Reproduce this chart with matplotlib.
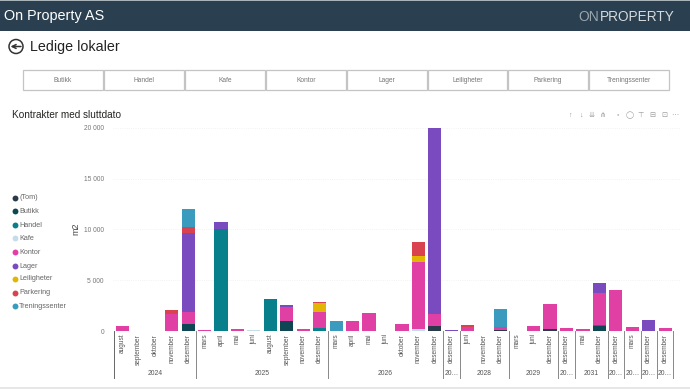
import matplotlib
matplotlib.use("Agg")
import matplotlib.pyplot as plt
from matplotlib.patches import Circle, Rectangle
import numpy as np

plt.rcParams['font.family'] = ['Liberation Sans', 'DejaVu Sans']

months = ["august", "september", "oktober", "november", "desember",
          "mars", "april", "mai", "juni", "august", "september", "november", "desember",
          "mars", "april", "mai", "juni", "oktober", "november", "desember",
          "desember",
          "juni", "november", "desember",
          "mars", "juni", "desember",
          "desember",
          "mai", "desember",
          "desember", "mars", "desember", "desember"]
years = ["2024", "2025", "2026", "20…", "2028", "2029", "20…", "2031", "20…", "20…", "20…", "20…"]
year_sizes = [5, 8, 7, 1, 3, 3, 1, 2, 1, 1, 1, 1]

series_names = ["(Tom)", "Butikk", "Handel", "Kafe", "Kontor", "Lager", "Leiligheter", "Parkering", "Treningssenter"]
series_colors = ["#2b3a4a", "#0f4654", "#08808c", "#c5dde8", "#e03fa3", "#7a4bbf", "#e3b505", "#d9434f", "#3a9bbf"]

tom     = [0, 0, 0, 0, 0,  0, 0, 0, 0, 0, 0, 0, 0,  0, 0, 0, 0, 0, 0, 530,  0,  0, 0, 100,  0, 0, 200,  0,  0, 0,  0, 0, 0, 0]
butikk  = [0, 0, 0, 0, 660,  0, 0, 0, 0, 0, 990, 0, 0,  0, 0, 0, 0, 0, 0, 0,  0,  0, 0, 0,  0, 0, 0,  0,  0, 460,  0, 0, 0, 0]
handel  = [0, 0, 0, 0, 0,  0, 10000, 0, 0, 3125, 0, 0, 300,  0, 0, 0, 0, 0, 0, 0,  0,  0, 0, 0,  0, 0, 0,  0,  0, 160,  0, 0, 0, 0]
kafe    = [0, 30, 40, 0, 0,  0, 0, 0, 60, 0, 0, 0, 0,  0, 0, 0, 20, 0, 170, 0,  0,  0, 20, 0,  30, 0, 0,  0,  0, 0,  0, 0, 0, 0]
kontor  = [530, 0, 0, 1680, 1180,  70, 0, 160, 20, 0, 1410, 200, 1575,  0, 990, 1810, 0, 720, 6640, 1180,  0,  360, 0, 300,  0, 490, 2430,  330,  200, 3130,  4010, 400, 0, 260]
lager   = [0, 0, 0, 0, 7860,  0, 720, 0, 0, 0, 130, 0, 0,  0, 0, 0, 0, 0, 0, 18290,  100,  0, 0, 0,  0, 0, 0,  0,  0, 950,  0, 0, 1050, 0]
leilig  = [0, 0, 0, 0, 0,  0, 0, 0, 0, 0, 0, 0, 925,  0, 0, 0, 0, 0, 620, 0,  0,  0, 0, 0,  0, 0, 0,  0,  0, 0,  0, 0, 0, 0]
parker  = [0, 0, 0, 390, 500,  0, 0, 0, 0, 0, 0, 0, 60,  0, 0, 0, 0, 0, 1350, 0,  0,  230, 0, 0,  0, 0, 0,  0,  0, 0,  0, 0, 0, 0]
trening = [0, 0, 0, 0, 1800,  0, 0, 0, 0, 0, 0, 0, 0,  950, 0, 0, 0, 0, 0, 0,  0,  0, 0, 1800,  0, 0, 0,  0,  0, 0,  0, 0, 0, 0]
series = [tom, butikk, handel, kafe, kontor, lager, leilig, parker, trening]

buttons = ["Butikk", "Handel", "Kafe", "Kontor", "Lager", "Leiligheter", "Parkering", "Treningssenter"]
button_edges = [23, 104, 185, 266, 347, 428, 508, 589, 669]
legend_y = [197.5, 211, 225, 238, 252, 266, 279, 293, 306]
toolbar = ["↑", "↓", "⇊", "⋔", "◦", "◯", "⊤", "⊟", "⊡", "⋯"]
toolbar_x = [570, 581, 592, 603, 618, 630, 641, 652, 664, 675]

fig = plt.figure(figsize=(6.9, 3.89), dpi=100, facecolor="white")

# page furniture, in pixel coordinates
bg = fig.add_axes([0, 0, 1, 1])
bg.set_xlim(0, 690)
bg.set_ylim(389, 0)
bg.axis("off")
bg.add_patch(Rectangle((0, 1), 690, 30, color="#2a3f4f", lw=0))
bg.add_patch(Rectangle((0, 0), 690, 1, color="#a9b4ba", lw=0))
bg.add_patch(Rectangle((0, 387), 690, 2, color="#e6e6e6", lw=0))
bg.text(4, 16, "On Property AS", color="white", fontsize=10.4, va="center")
bg.text(578, 16.5, "ON", color="#9aa6ad", fontsize=10, va="center")
bg.text(600, 16.5, "PROPERTY", color="#d5dade", fontsize=9.8, va="center")

bg.add_patch(Circle((16, 46.5), 7, fill=False, ec="#333333", lw=1.1))
bg.annotate("", xy=(10.5, 46.5), xytext=(21, 46.5),
            arrowprops=dict(arrowstyle="->", color="#333333", lw=1.1, mutation_scale=7, shrinkA=0, shrinkB=0))
bg.text(30, 47, "Ledige lokaler", color="#222222", fontsize=10.3, va="center")

for i, name in enumerate(buttons):
    left = button_edges[i]
    right = button_edges[i + 1] - 1 if i < 7 else button_edges[i + 1]
    bg.add_patch(Rectangle((left, 70), right - left, 20, fill=False, ec="#c4c4c4", lw=0.9))
    bg.text((left + right) / 2, 80, name, color="#777777", fontsize=4.8, ha="center", va="center")

bg.text(12, 115, "Kontrakter med sluttdato", color="#252423", fontsize=7.2, va="center")
for xpos, glyph in zip(toolbar_x, toolbar):
    bg.text(xpos, 115, glyph, color="#9a9a9a", fontsize=5.2, ha="center", va="center")

for name, color, y in zip(series_names, series_colors, legend_y):
    bg.scatter([15], [y], s=18, color=color, lw=0)
    bg.text(19, y, name, color="#666666", fontsize=5.2, va="center")

bg.text(76, 229, "m2", color="#444444", fontsize=6.5, rotation=90, ha="center", va="center")

# the chart itself
ax = fig.add_axes([113 / 690, (389 - 331) / 389, (680 - 113) / 690, 203 / 389])
ax.patch.set_alpha(0)
x = np.arange(len(months))
bottom = np.zeros(len(months))
for values, color in zip(series, series_colors):
    ax.bar(x, values, 0.8, bottom=bottom, color=color, lw=0, zorder=3)
    bottom += np.array(values)

ax.set_xlim(-0.565, 33.9)
ax.set_ylim(0, 20000)
ax.set_yticks([0, 5000, 10000, 15000, 20000])
ax.set_yticklabels(["0", "5 000", "10 000", "15 000", "20 000"], fontsize=4.8, color="#777777")
ax.set_xticks(x)
ax.set_xticklabels(months, rotation=90, fontsize=4.7, color="#555555")
ax.tick_params(axis="both", length=0)
ax.tick_params(axis="x", pad=2)
ax.tick_params(axis="y", pad=6.5)
ax.grid(axis="y", color="#eeeeee", lw=0.6, ls=":", zorder=0)
for spine in ax.spines.values():
    spine.set_visible(False)

# year groups below the months
trans = ax.get_xaxis_transform()
start = 0
ax.plot([-0.5, -0.5], [0, -0.232], transform=trans, color="#666666", lw=0.7, clip_on=False)
for year, size in zip(years, year_sizes):
    end = start + size
    ax.plot([end - 0.5, end - 0.5], [0, -0.232], transform=trans, color="#888888", lw=0.7, clip_on=False)
    ax.text((start + end - 1) / 2, -0.207, year, transform=trans, fontsize=4.9, color="#555555",
            ha="center", va="center", clip_on=False)
    start = end

fig.savefig("out.png", dpi=100)
